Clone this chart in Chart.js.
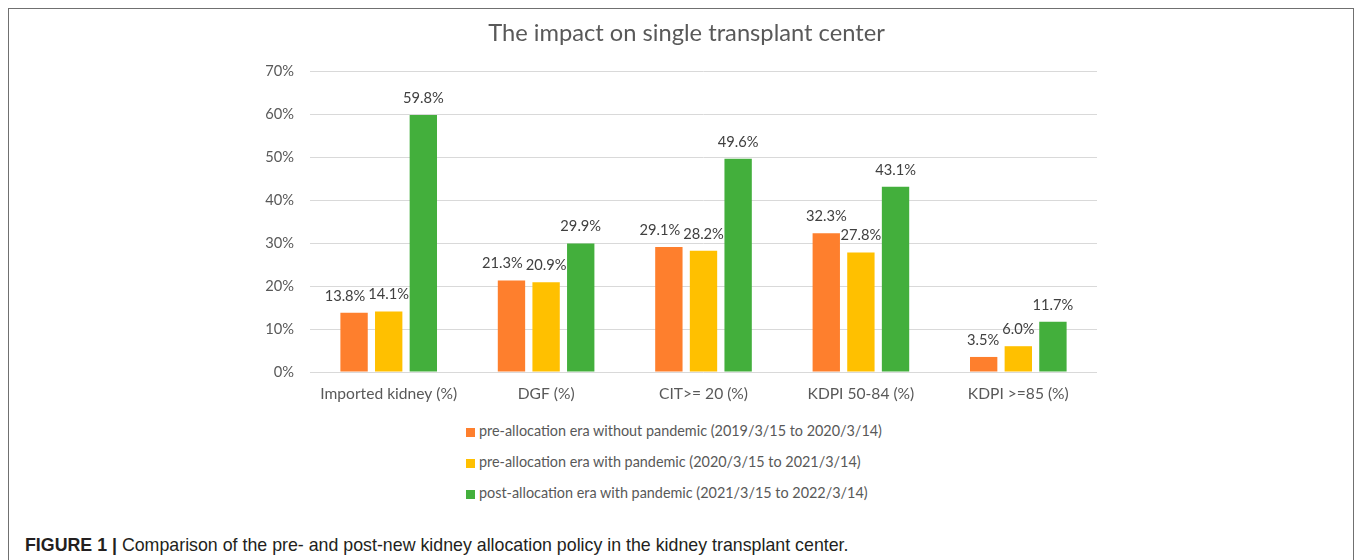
<!DOCTYPE html>
<html lang="en">
  <head>
    <meta charset="UTF-8" />
    <title>The impact on single transplant center</title>
    <script src="https://cdn.jsdelivr.net/npm/chart.js@4.4.0/dist/chart.umd.min.js"></script>
    <style>
      html, body {
        margin: 0;
        padding: 0;
        background: #fff;
        width: 1355px;
        height: 560px;
        overflow: hidden;
      }
      .frame {
        position: absolute;
        left: 8px;
        top: 8px;
        width: 1346px;
        height: 600px;
        box-sizing: border-box;
        border: 1px solid #707070;
        border-bottom: none;
      }
      #chart {
        position: absolute;
        left: 0;
        top: 0;
      }
      #legend {
        position: absolute;
        left: 466px;
        top: 422px;
        font-family: Lato, sans-serif;
        font-size: 14.4px;
        color: #595959;
      }
      #legend .item {
        height: 31px;
        line-height: 18px;
        white-space: nowrap;
      }
      #legend .box {
        display: inline-block;
        width: 9px;
        height: 9px;
        margin-right: 4px;
        vertical-align: -1px;
      }
      .caption {
        position: absolute;
        left: 25px;
        top: 534px;
        font-family: "Liberation Sans", Arial, sans-serif;
        font-size: 19px;
        line-height: 22px;
        color: #231f20;
        white-space: nowrap;
        transform: scaleX(0.936);
        transform-origin: left center;
      }
      .caption b {
        font-weight: bold;
      }
    </style>
  </head>
  <body>
    <div class="frame"></div>
    <canvas id="chart" width="1373" height="410"></canvas>
    <div id="legend"></div>
    <div class="caption"><b>FIGURE 1 |</b> Comparison of the pre- and post-new kidney allocation policy in the kidney transplant center.</div>

    <script>
      // categories on the x axis
      const categories = [
        "Imported kidney (%)",
        "DGF (%)",
        "CIT>= 20 (%)",
        "KDPI 50-84 (%)",
        "KDPI >=85 (%)",
      ];

      // percentage per era
      const preNoPandemic = [13.8, 21.3, 29.1, 32.3, 3.5];
      const prePandemic = [14.1, 20.9, 28.2, 27.8, 6.0];
      const postPandemic = [59.8, 29.9, 49.6, 43.1, 11.7];

      const seriesNames = [
        "pre-allocation era without pandemic (2019/3/15 to 2020/3/14)",
        "pre-allocation era with pandemic (2020/3/15 to 2021/3/14)",
        "post-allocation era with pandemic (2021/3/15 to 2022/3/14)",
      ];

      // y axis ticks
      const yTicks = [0, 10, 20, 30, 40, 50, 60, 70];

      const colors = ["#fe7f2d", "#ffc000", "#43af3c"];
      const font = "Lato, sans-serif";

      // value label above every bar; a label that would run into its
      // right-hand neighbour is nudged to the left
      const barLabels = {
        id: "barLabels",
        afterDatasetsDraw(chart) {
          const ctx = chart.ctx;
          ctx.save();
          ctx.font = "14.67px " + font;
          ctx.fillStyle = "#404040";
          ctx.textAlign = "center";
          ctx.textBaseline = "alphabetic";
          const n = chart.data.datasets.length;
          chart.data.labels.forEach((_, j) => {
            const items = [];
            for (let i = 0; i < n; i++) {
              const bar = chart.getDatasetMeta(i).data[j];
              const text = chart.data.datasets[i].data[j].toFixed(1) + "%";
              items.push({ text, x: bar.x, y: bar.y - 12, w: ctx.measureText(text).width });
            }
            for (let i = n - 2; i >= 0; i--) {
              const a = items[i];
              const b = items[i + 1];
              if (Math.abs(a.y - b.y) > 15) continue;
              const overlap = a.x + a.w / 2 + 3 - (b.x - b.w / 2);
              if (overlap > 0) a.x -= overlap;
            }
            items.forEach((it) => ctx.fillText(it.text, it.x, it.y));
          });
          ctx.restore();
        },
      };

      const datasets = [preNoPandemic, prePandemic, postPandemic].map(
        (values, i) => ({
          label: seriesNames[i],
          data: values,
          backgroundColor: colors[i],
          borderWidth: 0,
          categoryPercentage: 0.66,
          barPercentage: 0.79,
        })
      );

      const chart = new Chart(document.getElementById("chart"), {
        type: "bar",
        data: { labels: categories, datasets: datasets },
        options: {
          responsive: false,
          animation: false,
          devicePixelRatio: 1,
          layout: { padding: 0 },
          plugins: {
            legend: { display: false },
            tooltip: { enabled: false },
            title: {
              display: true,
              text: "The impact on single transplant center",
              color: "#595959",
              font: { family: font, size: 23.7, weight: "normal" },
              padding: { top: 18.8, bottom: 23.8 },
            },
          },
          scales: {
            x: {
              grid: { display: false, drawTicks: false },
              border: { display: false },
              ticks: {
                color: "#595959",
                font: { family: font, size: 15.6 },
                padding: 12.6,
              },
              afterFit(scale) {
                scale.height = 38;
              },
            },
            y: {
              min: 0,
              max: yTicks[yTicks.length - 1],
              afterBuildTicks(scale) {
                scale.ticks = yTicks.map((v) => ({ value: v }));
              },
              grid: { color: "#d9d9d9", lineWidth: 1, drawTicks: false },
              border: { display: false },
              ticks: {
                color: "#595959",
                font: { family: font, size: 14.67 },
                padding: 16,
                callback: (v) => v + "%",
              },
              afterFit(scale) {
                scale.width = 310;
              },
            },
            // empty right-hand axis, keeps the plot narrower than the title row
            side: {
              type: "linear",
              position: "right",
              grid: { display: false, drawTicks: false },
              border: { display: false },
              ticks: { display: false },
              afterFit(scale) {
                scale.width = 276;
              },
            },
          },
        },
        plugins: [barLabels],
      });

      // legend list built from the chart datasets
      const legend = document.getElementById("legend");
      chart.data.datasets.forEach((ds) => {
        const item = document.createElement("div");
        item.className = "item";
        const box = document.createElement("span");
        box.className = "box";
        box.style.background = ds.backgroundColor;
        item.appendChild(box);
        item.appendChild(document.createTextNode(ds.label));
        legend.appendChild(item);
      });
    </script>
  </body>
</html>
